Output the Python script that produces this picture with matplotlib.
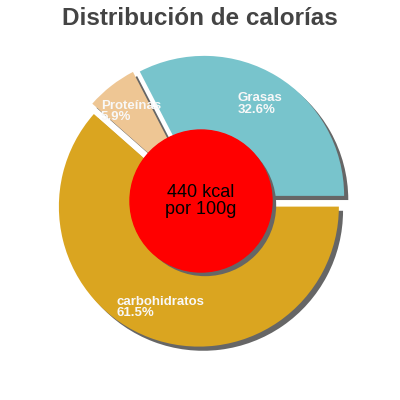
import numpy as np
import matplotlib
matplotlib.use("Agg")
import matplotlib.pyplot as plt
import matplotlib.patheffects as pe

# datos
labels = ["Grasas", "Proteínas", "carbohidratos"]
percents = [32.6, 5.9, 61.5]
colors = ["#78c4cc", "#eec694", "#daa520"]
title = "Distribución de calorías"
center_text = "440 kcal\npor 100g"

plt.rcParams['font.family'] = ['Liberation Sans', 'DejaVu Sans']

fig = plt.figure(figsize=(4, 4), dpi=100)
ax = fig.add_axes([0, 0, 1, 1])

shadow = [pe.SimplePatchShadow(offset=(3, -3), shadow_rgbFace='#666666', alpha=1.0),
          pe.Normal()]

wedges, _ = ax.pie(percents, colors=colors, startangle=0, counterclock=True,
                   radius=140, center=(201, 199), explode=[6, 6, 6],
                   wedgeprops=dict(linewidth=0))
for w in wedges:
    w.set_path_effects(shadow)

# pie() cambia los limites, se fijan despues
ax.set_xlim(0, 400)
ax.set_ylim(0, 400)
ax.set_aspect('equal')
ax.axis('off')

# etiquetas
for w, lab, p in zip(wedges, labels, percents):
    ang = np.deg2rad((w.theta1 + w.theta2) / 2)
    r = 0.77 * w.r
    cx, cy = w.center
    ax.text(cx + r * np.cos(ang), cy + r * np.sin(ang), "%s\n%.1f%%" % (lab, p),
            ha='center', va='center', multialignment='left',
            fontsize=9.5, fontweight='bold', color='#f8f8f8', linespacing=0.95)

circ = plt.Circle((201, 199), 71, color='#ff0000', zorder=5)
circ.set_path_effects(shadow)
ax.add_patch(circ)
ax.text(201, 199, center_text, ha='center', va='center', fontsize=13,
        color='black', zorder=6, linespacing=1.0)

fig.text(0.5, 0.953, title, ha='center', va='center', fontsize=17.5,
         fontweight='bold', color='#444444')

fig.savefig("out.png")
